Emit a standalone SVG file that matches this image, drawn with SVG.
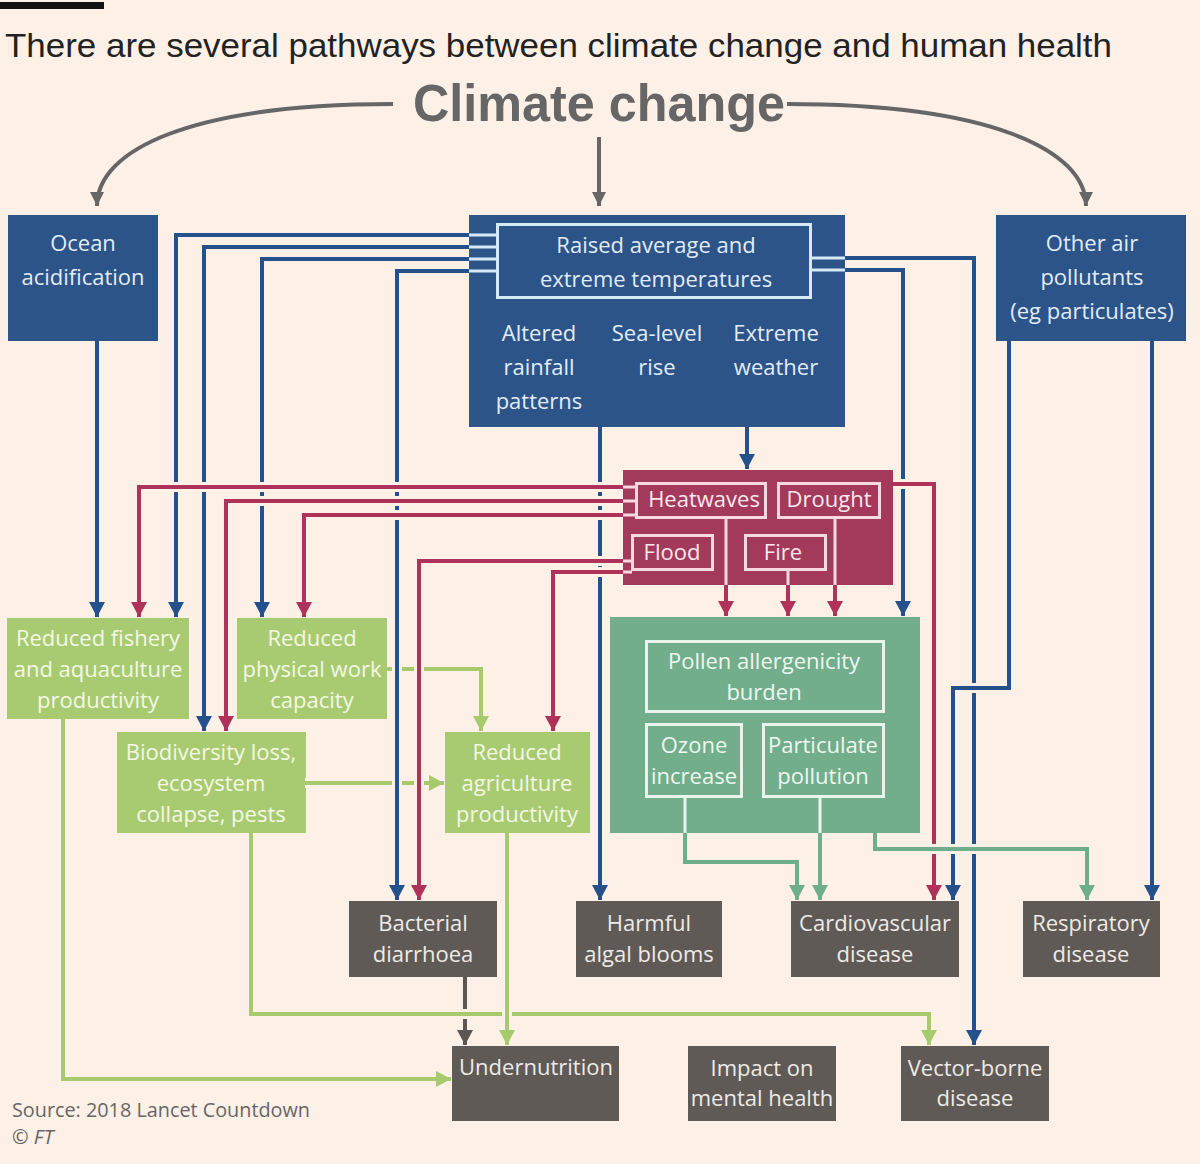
<svg xmlns="http://www.w3.org/2000/svg" width="1200" height="1164" viewBox="0 0 1200 1164">
<style>
.t{font-family:"Open Sans","Liberation Sans",sans-serif;font-size:22px;text-anchor:middle}
.tb{fill:#e2ecf7}.tr{fill:#fbe8ee}.tg{fill:#f4f8e4}.tt{fill:#eef7f0}.td{fill:#eeeae6}
.nb{fill:#2c5488}.nr{fill:#a33a5b}.ng{fill:#a8cb72}.nt{fill:#72ae8c}.nd{fill:#5f5a56}
.ib{fill:none;stroke:#d6e9f7;stroke-width:3}.ir{fill:none;stroke:#f6d9e2;stroke-width:3}.it{fill:none;stroke:#e9f5eb;stroke-width:3}
.c path{fill:none;stroke-width:4}
.c path.h{stroke:#fdf0e7;stroke-width:10}
.blue path:not(.h){stroke:#24508c;marker-end:url(#ab)}
.red path:not(.h){stroke:#ae3259;marker-end:url(#ar)}
.lg path:not(.h){stroke:#a7cb6c;marker-end:url(#ag)}
.teal path:not(.h){stroke:#6eae8a;marker-end:url(#at)}
.gray path:not(.h){stroke:#5b5651;marker-end:url(#ak)}
.top path{stroke:#666;marker-end:url(#am)}
.inb path{stroke:#d6e9f7;stroke-width:3}
.inr path{stroke:#f6d9e2;stroke-width:3}
.int path{stroke:#e9f5eb;stroke-width:3}
</style>
<defs>
<marker id="ab" viewBox="0 0 10 10" refX="10" refY="5" markerUnits="userSpaceOnUse" markerWidth="15" markerHeight="16" orient="auto" preserveAspectRatio="none"><path d="M0,0L10,5L0,10z" fill="#24508c"/></marker>
<marker id="ar" viewBox="0 0 10 10" refX="10" refY="5" markerUnits="userSpaceOnUse" markerWidth="15" markerHeight="16" orient="auto" preserveAspectRatio="none"><path d="M0,0L10,5L0,10z" fill="#ae3259"/></marker>
<marker id="ag" viewBox="0 0 10 10" refX="10" refY="5" markerUnits="userSpaceOnUse" markerWidth="15" markerHeight="16" orient="auto" preserveAspectRatio="none"><path d="M0,0L10,5L0,10z" fill="#a7cb6c"/></marker>
<marker id="at" viewBox="0 0 10 10" refX="10" refY="5" markerUnits="userSpaceOnUse" markerWidth="15" markerHeight="16" orient="auto" preserveAspectRatio="none"><path d="M0,0L10,5L0,10z" fill="#6eae8a"/></marker>
<marker id="ak" viewBox="0 0 10 10" refX="10" refY="5" markerUnits="userSpaceOnUse" markerWidth="15" markerHeight="16" orient="auto" preserveAspectRatio="none"><path d="M0,0L10,5L0,10z" fill="#5b5651"/></marker>
<marker id="am" viewBox="0 0 10 10" refX="10" refY="5" markerUnits="userSpaceOnUse" markerWidth="14" markerHeight="14" orient="auto" preserveAspectRatio="none"><path d="M0,0L10,5L0,10z" fill="#666"/></marker>
</defs>
<rect width="1200" height="1164" fill="#fdf0e7"/>
<rect x="0" y="2" width="104" height="7" fill="#111"/>
<text x="5" y="57" font-family="Liberation Sans, sans-serif" font-size="34" fill="#222" textLength="1107" lengthAdjust="spacingAndGlyphs">There are several pathways between climate change and human health</text>
<g id="climate-change"><text x="413" y="121" font-family="Liberation Sans, sans-serif" font-size="52" font-weight="bold" fill="#666" textLength="372" lengthAdjust="spacingAndGlyphs">Climate change</text></g>

<g id="ocean-acidification"><rect class="nb" x="8" y="215" width="150" height="126"/>
<text class="t tb" x="83" y="251">Ocean</text><text class="t tb" x="83" y="285">acidification</text></g>

<g id="climate-block"><rect class="nb" x="469" y="215" width="376" height="212"/>
<rect class="ib" x="497.5" y="224.5" width="313" height="73"/>
<text class="t tb" x="656" y="253">Raised average and</text><text class="t tb" x="656" y="287">extreme temperatures</text>
<text class="t tb" x="539" y="341">Altered</text><text class="t tb" x="539" y="375">rainfall</text><text class="t tb" x="539" y="409">patterns</text>
<text class="t tb" x="657" y="341">Sea-level</text><text class="t tb" x="657" y="375">rise</text>
<text class="t tb" x="776" y="341">Extreme</text><text class="t tb" x="776" y="375">weather</text></g>

<g id="other-air-pollutants"><rect class="nb" x="996" y="215" width="190" height="126"/>
<text class="t tb" x="1092" y="251">Other air</text><text class="t tb" x="1092" y="285">pollutants</text><text class="t tb" x="1092" y="319">(eg particulates)</text></g>

<g id="extreme-events"><rect class="nr" x="623" y="470" width="270" height="115"/>
<rect class="ir" x="636.5" y="483.5" width="129" height="34"/><text class="t tr" x="704" y="507">Heatwaves</text>
<rect class="ir" x="778.5" y="483.5" width="101" height="34"/><text class="t tr" x="829" y="507">Drought</text>
<rect class="ir" x="632.5" y="535.5" width="80" height="34"/><text class="t tr" x="672" y="560">Flood</text>
<rect class="ir" x="745.5" y="535.5" width="80" height="34"/><text class="t tr" x="783" y="560">Fire</text></g>

<g id="air-quality"><rect class="nt" x="610" y="617" width="310" height="216"/>
<rect class="it" x="646.5" y="641.5" width="237" height="70"/><text class="t tt" x="764" y="669">Pollen allergenicity</text><text class="t tt" x="764" y="700">burden</text>
<rect class="it" x="646.5" y="724.5" width="95" height="72"/><text class="t tt" x="694" y="753">Ozone</text><text class="t tt" x="694" y="784">increase</text>
<rect class="it" x="763.5" y="724.5" width="120" height="72"/><text class="t tt" x="823" y="753">Particulate</text><text class="t tt" x="823" y="784">pollution</text></g>

<g id="reduced-fishery"><rect class="ng" x="7" y="618" width="182" height="101"/>
<text class="t tg" x="98" y="646">Reduced fishery</text><text class="t tg" x="98" y="677">and aquaculture</text><text class="t tg" x="98" y="708">productivity</text></g>
<g id="reduced-work"><rect class="ng" x="237" y="618" width="150" height="101"/>
<text class="t tg" x="312" y="646">Reduced</text><text class="t tg" x="312" y="677">physical work</text><text class="t tg" x="312" y="708">capacity</text></g>
<g id="biodiversity"><rect class="ng" x="117" y="732" width="189" height="101"/>
<text class="t tg" x="211" y="760">Biodiversity loss,</text><text class="t tg" x="211" y="791">ecosystem</text><text class="t tg" x="211" y="822">collapse, pests</text></g>
<g id="reduced-agriculture"><rect class="ng" x="445" y="732" width="145" height="101"/>
<text class="t tg" x="517" y="760">Reduced</text><text class="t tg" x="517" y="791">agriculture</text><text class="t tg" x="517" y="822">productivity</text></g>

<g id="bacterial-diarrhoea"><rect class="nd" x="349" y="901" width="148" height="76"/>
<text class="t td" x="423" y="931">Bacterial</text><text class="t td" x="423" y="962">diarrhoea</text></g>
<g id="harmful-algal-blooms"><rect class="nd" x="576" y="901" width="146" height="76"/>
<text class="t td" x="649" y="931">Harmful</text><text class="t td" x="649" y="962">algal blooms</text></g>
<g id="cardiovascular-disease"><rect class="nd" x="791" y="901" width="168" height="76"/>
<text class="t td" x="875" y="931">Cardiovascular</text><text class="t td" x="875" y="962">disease</text></g>
<g id="respiratory-disease"><rect class="nd" x="1023" y="901" width="137" height="76"/>
<text class="t td" x="1091" y="931">Respiratory</text><text class="t td" x="1091" y="962">disease</text></g>
<g id="undernutrition"><rect class="nd" x="452" y="1046" width="167" height="75"/>
<text class="t td" x="536" y="1075">Undernutrition</text></g>
<g id="mental-health"><rect class="nd" x="688" y="1046" width="148" height="75"/>
<text class="t td" x="762" y="1076">Impact on</text><text class="t td" x="762" y="1106">mental health</text></g>
<g id="vector-borne-disease"><rect class="nd" x="901" y="1046" width="148" height="75"/>
<text class="t td" x="975" y="1076">Vector-borne</text><text class="t td" x="975" y="1106">disease</text></g>

<g id="connectors" class="c">
<g class="top">
<path d="M393,104 C190,104 97,150 97,206"/>
<path d="M787,104 C990,104 1086,150 1086,206"/>
<path d="M599,137 V206"/>
</g>
<g class="inb"><path d="M497,235H469M497,247H469M497,259H469M497,271H469M811,258H845M811,270H845"/></g>
<g class="inr"><path d="M636,487H623M636,501H623M636,515H623M632,561H623M632,572H623M726,518V585M788,570V585M835,518V585"/></g>
<g class="int"><path d="M685,797V833M820,797V833"/></g>
<g class="gray">
<path class="h" d="M465,977V1045"/><path d="M465,977V1045"/>
</g>
<g class="lg">
<path class="h" d="M387,669H481V731"/><path d="M387,669H481V731"/>
<path class="h" d="M305,783H444"/><path d="M305,783H444"/>
<path class="h" d="M63,719V1079H451"/><path d="M63,719V1079H451"/>
<path class="h" d="M251,833V1014H929V1045"/><path d="M251,833V1014H929V1045"/>
<path class="h" d="M507,833V1045"/><path d="M507,833V1045"/>
</g>
<g class="blue">
<path class="h" d="M97,341V617"/><path d="M97,341V617"/>
<path class="h" d="M469,235H176V617"/><path d="M469,235H176V617"/>
<path class="h" d="M469,247H204V731"/><path d="M469,247H204V731"/>
<path class="h" d="M469,259H262V617"/><path d="M469,259H262V617"/>
<path class="h" d="M469,271H397V900"/><path d="M469,271H397V900"/>
<path class="h" d="M845,258H974V1045"/><path d="M845,258H974V1045"/>
<path class="h" d="M845,270H903V616"/><path d="M845,270H903V616"/>
<path class="h" d="M600,427V900"/><path d="M600,427V900"/>
<path class="h" d="M747,427V469"/><path d="M747,427V469"/>
<path class="h" d="M1009,341V688H953V900"/><path d="M1009,341V688H953V900"/>
<path class="h" d="M1152,341V900"/><path d="M1152,341V900"/>
</g>
<g class="red">
<path class="h" d="M623,487H139V617"/><path d="M623,487H139V617"/>
<path class="h" d="M623,501H226V731"/><path d="M623,501H226V731"/>
<path class="h" d="M623,515H304V617"/><path d="M623,515H304V617"/>
<path class="h" d="M623,561H419V900"/><path d="M623,561H419V900"/>
<path class="h" d="M623,572H553V731"/><path d="M623,572H553V731"/>
<path class="h" d="M893,484H934V900"/><path d="M893,484H934V900"/>
<path d="M726,585V616"/><path d="M788,585V616"/><path d="M835,585V616"/>
</g>
<g class="teal">
<path class="h" d="M685,833V862H797V900"/><path d="M685,833V862H797V900"/>
<path class="h" d="M820,833V900"/><path d="M820,833V900"/>
<path class="h" d="M875,833V849H1087V900"/><path d="M875,833V849H1087V900"/>
</g>
</g>

<text x="12" y="1117" font-family="Open Sans, Liberation Sans, sans-serif" font-size="20" fill="#666" textLength="298" lengthAdjust="spacingAndGlyphs">Source: 2018 Lancet Countdown</text>
<text x="12" y="1144" font-family="Open Sans, Liberation Sans, sans-serif" font-size="20" fill="#666">© <tspan font-style="italic">FT</tspan></text>
</svg>
